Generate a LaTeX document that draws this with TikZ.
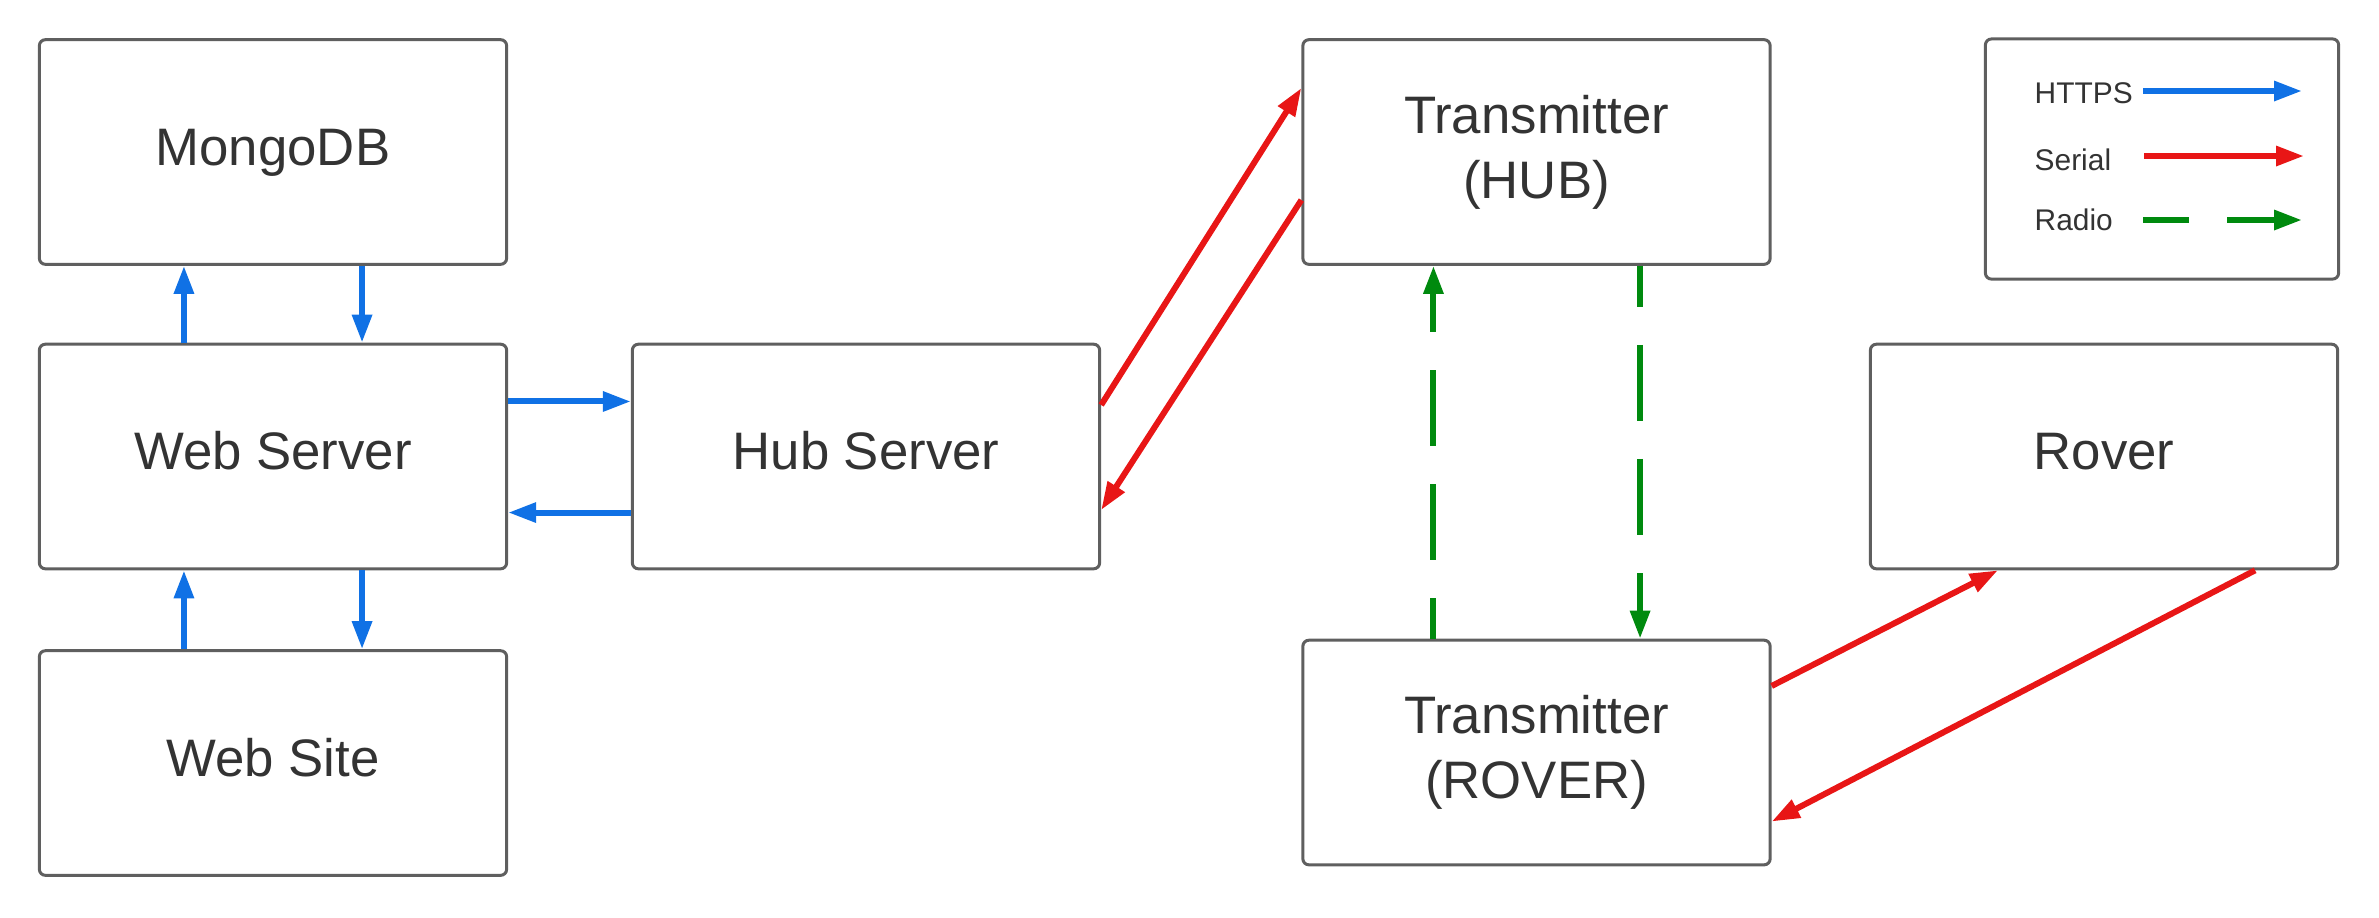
\documentclass[tikz,border=0pt]{standalone}
\usepackage{fontspec}
\setmainfont{Liberation Sans}
\usetikzlibrary{arrows.meta}
\definecolor{httpsblue}{HTML}{1071E5}
\definecolor{serialred}{HTML}{E81616}
\definecolor{radiogreen}{HTML}{008A0E}
\definecolor{boxgray}{HTML}{5F5F5F}
\definecolor{textgray}{HTML}{333333}
\begin{document}
\begin{tikzpicture}[x=0.01cm, y=-0.01cm,
    box/.style={draw=boxgray, line width=0.03cm, rounded corners=0.06cm, fill=white,
        minimum width=4.67cm, minimum height=2.245cm, align=center, text=textgray,
        font=\fontsize{15}{18.5}\selectfont},
    legendbox/.style={draw=boxgray, line width=0.03cm, rounded corners=0.06cm,
        minimum width=3.53cm, minimum height=2.4cm},
    legendtext/.style={anchor=west, inner sep=0pt, text=textgray, font=\fontsize{8.5}{10}\selectfont},
    link/.style={line width=0.06cm, -{Triangle[length=0.28cm, width=0.19cm]}},
    https/.style={link, draw=httpsblue},
    serial/.style={link, draw=serialred},
    radio/.style={link, draw=radiogreen, dash pattern=on 0.76cm off 0.38cm, dash phase=0.35cm}]
    \useasboundingbox (0,0) rectangle (2379,917);
    % boxes
    \node[box] (mongo) at (273, 152) {MongoDB\strut};
    \node[box] (websrv) at (273, 456.5) {Web Server\strut};
    \node[box] (website) at (273, 763) {Web Site\strut};
    \node[box] (hubsrv) at (866, 456.5) {Hub Server\strut};
    \node[box] (txhub) at (1536.5, 152) {Transmitter\\(HUB)};
    \node[box] (txrover) at (1536.5, 752.5) {Transmitter\\(ROVER)};
    \node[box] (rover) at (2104, 456.5) {Rover\strut};
    % https
    \draw[https] ([xshift=-0.89cm]websrv.north) -- ([xshift=-0.89cm]mongo.south);
    \draw[https] ([xshift=0.89cm]mongo.south) -- ([xshift=0.89cm]websrv.north);
    \draw[https] ([xshift=-0.89cm]website.north) -- ([xshift=-0.89cm]websrv.south);
    \draw[https] ([xshift=0.89cm]websrv.south) -- ([xshift=0.89cm]website.north);
    \draw[https] ([yshift=0.55cm]websrv.east) -- ([yshift=0.55cm]hubsrv.west);
    \draw[https] ([yshift=-0.56cm]hubsrv.west) -- ([yshift=-0.56cm]websrv.east);
    % serial
    \draw[serial] ([yshift=0.515cm]hubsrv.east) -- ([yshift=0.64cm]txhub.west);
    \draw[serial] ([yshift=-0.48cm]txhub.west) -- ([yshift=-0.535cm]hubsrv.east);
    \draw[serial] ([yshift=0.665cm]txrover.east) -- ([xshift=-1.06cm]rover.south);
    \draw[serial] ([xshift=1.51cm]rover.south) -- ([yshift=-0.69cm]txrover.east);
    % radio
    \draw[radio] ([xshift=-1.03cm]txrover.north) -- ([xshift=-1.03cm]txhub.south);
    \draw[radio] ([xshift=1.035cm]txhub.south) -- ([xshift=1.035cm]txrover.north);
    % legend
    \node[legendbox] (legend) at (2162, 159) {};
    \node[legendtext] (lhttps) at (2034, 93) {HTTPS};
    \node[legendtext] (lserial) at (2034, 160) {Serial};
    \node[legendtext] (lradio) at (2034, 220) {Radio};
    \coordinate (hs) at (2143, 91);  \coordinate (he) at (2302, 91);
    \coordinate (ss) at (2144, 156); \coordinate (se) at (2304, 156);
    \coordinate (rs) at (2143, 220); \coordinate (re) at (2302, 220);
    \draw[https] (hs) -- (he);
    \draw[serial] (ss) -- (se);
    \draw[radio, dash phase=0.30cm] (rs) -- (re);
\end{tikzpicture}
\end{document}
